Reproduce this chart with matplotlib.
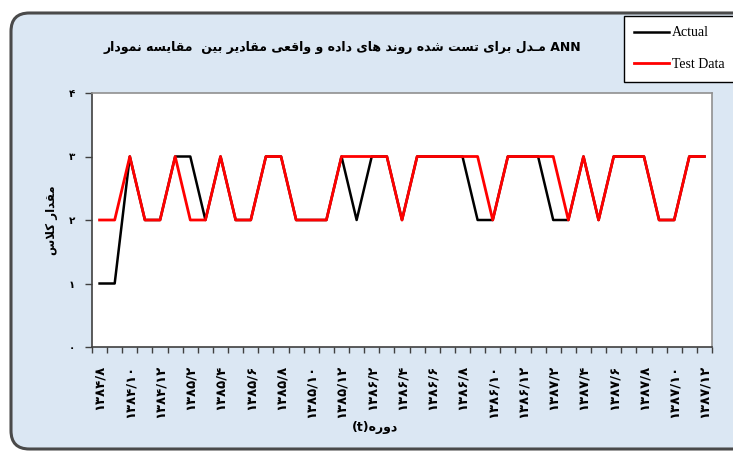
import matplotlib
matplotlib.use("Agg")
import matplotlib.pyplot as plt
from matplotlib.patches import FancyBboxPatch

# ---------------- data ----------------
categories = [
    "1384/8", "1384/9", "1384/10", "1384/11", "1384/12",
    "1385/1", "1385/2", "1385/3", "1385/4", "1385/5", "1385/6",
    "1385/7", "1385/8", "1385/9", "1385/10", "1385/11", "1385/12",
    "1386/1", "1386/2", "1386/3", "1386/4", "1386/5", "1386/6",
    "1386/7", "1386/8", "1386/9", "1386/10", "1386/11", "1386/12",
    "1387/1", "1387/2", "1387/3", "1387/4", "1387/5", "1387/6",
    "1387/7", "1387/8", "1387/9", "1387/10", "1387/11", "1387/12",
]
actual = [1, 1, 3, 2, 2, 3, 3, 2, 3, 2, 2, 3, 3, 2, 2, 2, 3, 2, 3, 3, 2,
          3, 3, 3, 3, 2, 2, 3, 3, 3, 2, 2, 3, 2, 3, 3, 3, 2, 2, 3, 3]
test_data = [2, 2, 3, 2, 2, 3, 2, 2, 3, 2, 2, 3, 3, 2, 2, 2, 3, 3, 3, 3, 2,
             3, 3, 3, 3, 3, 2, 3, 3, 3, 3, 2, 3, 2, 3, 3, 3, 2, 2, 3, 3]
y_ticks = [0, 1, 2, 3, 4]

title_text = "نمودار مقایسه  بین مقادیر واقعی و داده های روند شده تست برای مـدل ANN"
ylabel_text = "مقدار کلاس"
xlabel_text = "دوره(t)"
series_names = ["Actual", "Test Data"]

# ------------- Persian shaping helpers -------------
FORMS = {
    "ا": ("\uFE8D", "\uFE8E"),
    "د": ("\uFEA9", "\uFEAA"),
    "ر": ("\uFEAD", "\uFEAE"),
    "و": ("\uFEED", "\uFEEE"),
    "ب": ("\uFE8F", "\uFE90", "\uFE91", "\uFE92"),
    "ت": ("\uFE95", "\uFE96", "\uFE97", "\uFE98"),
    "س": ("\uFEB1", "\uFEB2", "\uFEB3", "\uFEB4"),
    "ش": ("\uFEB5", "\uFEB6", "\uFEB7", "\uFEB8"),
    "ع": ("\uFEC9", "\uFECA", "\uFECB", "\uFECC"),
    "ق": ("\uFED5", "\uFED6", "\uFED7", "\uFED8"),
    "ل": ("\uFEDD", "\uFEDE", "\uFEDF", "\uFEE0"),
    "م": ("\uFEE1", "\uFEE2", "\uFEE3", "\uFEE4"),
    "ن": ("\uFEE5", "\uFEE6", "\uFEE7", "\uFEE8"),
    "ه": ("\uFEE9", "\uFEEA", "\uFEEB", "\uFEEC"),
    "ی": ("\uFBFC", "\uFBFD", "\uFBFE", "\uFBFF"),
    "ک": ("\uFB8E", "\uFB8F", "\uFB90", "\uFB91"),
    "ـ": ("ـ", "ـ", "ـ", "ـ"),
}


def dual(c):
    return c in FORMS and len(FORMS[c]) == 4


def shape_word(word):
    if not any(c in FORMS for c in word):
        return word
    chars = list(word)
    out = []
    i = 0
    while i < len(chars):
        c = chars[i]
        if c not in FORMS:
            out.append(c)
            i += 1
            continue
        prev = chars[i - 1] if i > 0 else None
        jp = prev is not None and dual(prev)
        if c == "ل" and i + 1 < len(chars) and chars[i + 1] == "ا":
            out.append("\uFEFC" if jp else "\uFEFB")
            i += 2
            continue
        nxt = chars[i + 1] if i + 1 < len(chars) else None
        jn = dual(c) and nxt is not None and nxt in FORMS
        f = FORMS[c]
        if jp and jn:
            g = f[3]
        elif jp:
            g = f[1]
        elif jn:
            g = f[2]
        else:
            g = f[0]
        out.append(g)
        i += 1
    return "".join(reversed(out))


def visual_ltr_words(text):
    # words kept left-to-right (as in the reference), each word shaped RTL
    return " ".join(shape_word(w) for w in text.split(" "))


def visual_rtl(text):
    return " ".join(shape_word(w) for w in reversed(text.split(" ")))


def fa_digits(s):
    return s.translate(str.maketrans("0123456789", "۰۱۲۳۴۵۶۷۸۹"))


# ---------------- figure ----------------
W, H = 733, 451
fig = plt.figure(figsize=(W / 100, H / 100), dpi=100)
fig.patch.set_facecolor("white")

bg = FancyBboxPatch((11 / W, 2 / H), 740 / W, 436 / H,
                    boxstyle="round,pad=0,rounding_size=0.025",
                    transform=fig.transFigure, facecolor="#dbe7f3",
                    edgecolor="#4a4a4a", linewidth=2.2, zorder=-5,
                    mutation_aspect=W / H)
fig.patches.append(bg)

ax = fig.add_axes([92 / W, 1 - 347 / H, 620 / W, 254 / H])
ax.set_zorder(1)
ax.set_facecolor("white")

x = list(range(len(categories)))
ax.plot(x, actual, color="black", lw=1.8, label=series_names[0], zorder=3)
ax.plot(x, test_data, color="#ff0000", lw=2.0, label=series_names[1], zorder=4)

ax.set_xlim(-0.5, len(categories) - 0.5)
ax.set_ylim(0, 4)
ax.set_yticks(y_ticks)
ax.set_yticklabels([fa_digits(str(v)) for v in y_ticks], fontsize=7.5,
                   fontweight="bold", family="DejaVu Sans")

# tick marks at category boundaries, labels every second category
ax.set_xticks([i - 0.5 for i in range(len(categories) + 1)])
ax.set_xticklabels([])
ax.set_xticks(x[::2], minor=True)
ax.set_xticklabels([fa_digits(c) for c in categories[::2]], minor=True,
                   rotation=90, fontsize=9.5, fontweight="bold",
                   family="DejaVu Sans")
ax.tick_params(axis="x", which="major", direction="out", length=4,
               color="#404040", width=1)
ax.tick_params(axis="x", which="minor", length=0, pad=13)
ax.tick_params(axis="y", direction="out", length=5, color="#404040",
               width=1, pad=7)

for side in ["top", "right"]:
    ax.spines[side].set_color("#909090")
    ax.spines[side].set_linewidth(1.2)
for side in ["left", "bottom"]:
    ax.spines[side].set_color("#404040")
    ax.spines[side].set_linewidth(1.2)

fig.text(342 / W, 1 - 47 / H, visual_ltr_words(title_text), ha="center",
         va="center", fontsize=9, fontweight="bold", family="DejaVu Sans")
fig.text(52 / W, 1 - 220 / H, visual_rtl(ylabel_text), rotation=90,
         ha="center", va="center", fontsize=8.5, fontweight="bold",
         family="DejaVu Sans")
fig.text(375 / W, 1 - 428 / H, "(t)" + shape_word("دوره"), ha="center",
         va="center", fontsize=9, fontweight="bold", family="DejaVu Sans")

leg = fig.legend(loc="upper left", bbox_to_anchor=(624 / W, 1 - 16 / H),
                 borderaxespad=0, frameon=True, fancybox=False,
                 edgecolor="black", framealpha=1,
                 prop={"family": "Liberation Serif", "size": 10},
                 handlelength=2.5, labelspacing=1.35, borderpad=0.75,
                 handletextpad=0.2)
leg.get_frame().set_linewidth(1.0)
leg.set_zorder(5)

fig.savefig("out.png", dpi=100)
